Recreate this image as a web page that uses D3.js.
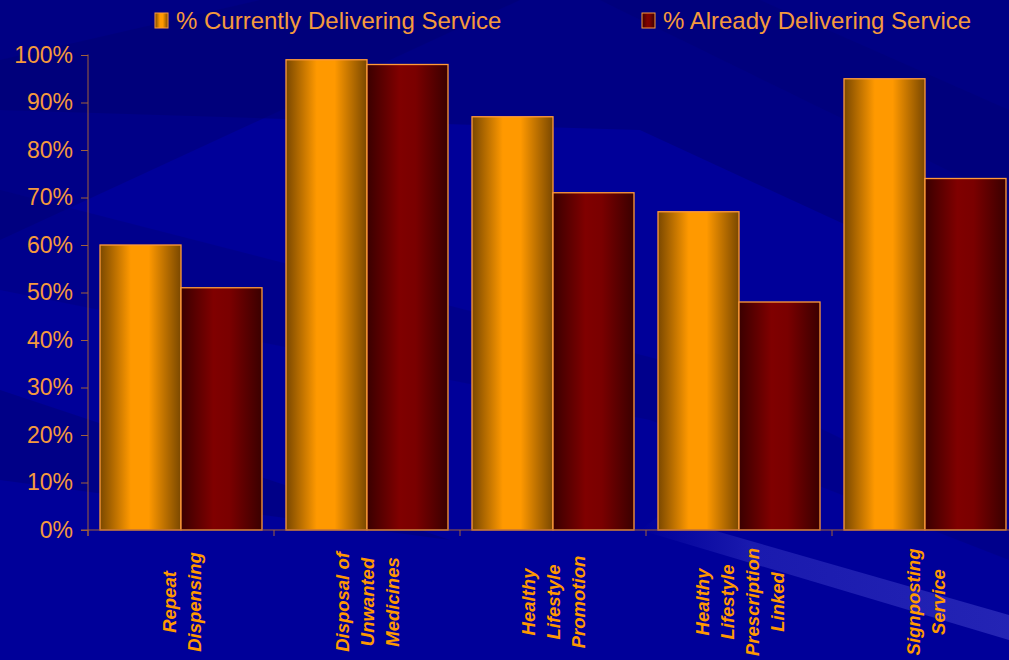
<!DOCTYPE html>
<html>
<head>
<meta charset="utf-8">
<script src="https://cdn.jsdelivr.net/npm/d3@7"></script>
<style>
  body { margin: 0; background: #000096; }
  #chart { width: 1009px; height: 660px; overflow: hidden; }
  text { font-family: Arial, "Liberation Sans", sans-serif; }
</style>
</head>
<body>
<div id="chart"></div>
<script>
/* DATA */
var categories = [
    ["Repeat", "Dispensing"],
    ["Disposal of", "Unwanted", "Medicines"],
    ["Healthy", "Lifestyle", "Promotion"],
    ["Healthy", "Lifestyle", "Prescription", "Linked"],
    ["Signposting", "Service"]
];
var seriesNames = ["% Currently Delivering Service", "% Already Delivering Service"];
var currently = [60, 99, 87, 67, 95];
var already = [51, 98, 71, 48, 74];
var yTicks = [0, 10, 20, 30, 40, 50, 60, 70, 80, 90, 100];

var width = 1009, height = 660;
var orange = "#f59a3c";

var svg = d3.select("#chart").append("svg")
    .attr("width", width)
    .attr("height", height);

var defs = svg.append("defs");

// bar gradients
var gOr = defs.append("linearGradient").attr("id", "gOrange");
[[0, "#7a4800"], [0.38, "#ff9900"], [0.6, "#ff9900"], [1, "#7a4800"]].forEach(function(s) {
    gOr.append("stop").attr("offset", s[0]).attr("stop-color", s[1]);
});
var gRed = defs.append("linearGradient").attr("id", "gRed");
[[0, "#3a0000"], [0.4, "#800000"], [0.6, "#7a0000"], [1, "#3a0000"]].forEach(function(s) {
    gRed.append("stop").attr("offset", s[0]).attr("stop-color", s[1]);
});
var gStreak = defs.append("linearGradient").attr("id", "gStreak");
gStreak.append("stop").attr("offset", 0).attr("stop-color", "#3030c0").attr("stop-opacity", 0);
gStreak.append("stop").attr("offset", 0.3).attr("stop-color", "#3a3ac8").attr("stop-opacity", 0.45);
gStreak.append("stop").attr("offset", 1).attr("stop-color", "#4848d0").attr("stop-opacity", 0.5);

/* BACKGROUND */
svg.append("rect").attr("width", width).attr("height", height).attr("fill", "#000099");
var dark = [
    "0,0 1009,0 1009,300 640,130 0,110",
    "0,60 260,0 520,0 0,240",
    "0,390 450,540 0,480",
    "600,0 1009,200 1009,110 760,0",
    "0,190 700,370 1009,520 1009,560 650,420 0,290"
];
dark.forEach(function(p, i) {
    svg.append("polygon").attr("points", p)
        .attr("fill", "#000070").attr("opacity", [0.5, 0.45, 0.45, 0.35, 0.3][i]);
});
svg.append("polygon")
    .attr("points", "660,515 1009,615 1009,640 640,530")
    .attr("fill", "url(#gStreak)");

/* SCALES */
var margin = { left: 88, top: 55, bottom: 530 };
var x0 = d3.scaleBand()
    .domain(d3.range(categories.length))
    .range([margin.left, margin.left + 186 * categories.length])
    .paddingInner(0)
    .paddingOuter(0);
var x1 = d3.scaleBand()
    .domain([0, 1])
    .range([12, x0.bandwidth() - 12]);
var y = d3.scaleLinear().domain([0, 100]).range([margin.bottom, margin.top]);

/* BARS */
var groups = svg.selectAll("g.cat")
    .data(categories.map(function(c, i) { return [currently[i], already[i]]; }))
    .enter().append("g")
    .attr("class", "cat")
    .attr("transform", function(d, i) { return "translate(" + x0(i) + ",0)"; });

groups.selectAll("rect")
    .data(function(d) { return d; })
    .enter().append("rect")
    .attr("x", function(d, j) { return x1(j); })
    .attr("y", function(d) { return y(d); })
    .attr("width", x1.bandwidth())
    .attr("height", function(d) { return y(0) - y(d); })
    .attr("fill", function(d, j) { return j === 0 ? "url(#gOrange)" : "url(#gRed)"; })
    .attr("stroke", "#ff9a3a")
    .attr("stroke-width", 1.3);

/* Y AXIS */
var yAxis = svg.append("g")
    .attr("transform", "translate(" + margin.left + ",0)")
    .call(d3.axisLeft(y).tickValues(yTicks).tickSize(7).tickPadding(8)
        .tickFormat(function(d) { return d + "%"; }));
yAxis.select(".domain").attr("stroke", "#a0603a").attr("d", "M0," + (margin.top - 0.5) + "V" + (margin.bottom + 6));
yAxis.selectAll(".tick line").attr("stroke", "#a0603a");
yAxis.selectAll(".tick text")
    .attr("fill", orange)
    .style("font-size", "23px");

/* X AXIS */
svg.append("line")
    .attr("x1", margin.left - 7).attr("x2", width)
    .attr("y1", y(0)).attr("y2", y(0))
    .attr("stroke", "#a0603a");
d3.range(categories.length).forEach(function(i) {
    svg.append("line")
        .attr("x1", x0(i)).attr("x2", x0(i))
        .attr("y1", y(0)).attr("y2", y(0) + 6)
        .attr("stroke", "#a0603a");
});

/* CATEGORY LABELS */
categories.forEach(function(lines, i) {
    var cx = x0(i) + x0.bandwidth() / 2;
    var n = lines.length;
    lines.forEach(function(t, k) {
        var lx = cx + (k - (n - 1) / 2) * 25 + 7;
        svg.append("text")
            .attr("transform", "translate(" + lx + ",602) rotate(-90)")
            .attr("text-anchor", "middle")
            .attr("fill", "#ff9900")
            .style("font-size", "18.5px")
            .style("font-weight", "bold")
            .style("font-style", "italic")
            .text(t);
    });
});

/* LEGEND */
var legendX = [155, 642];
seriesNames.forEach(function(name, i) {
    svg.append("rect")
        .attr("x", legendX[i]).attr("y", 13)
        .attr("width", 13).attr("height", 15)
        .attr("fill", i === 0 ? "url(#gOrange)" : "url(#gRed)")
        .attr("stroke", "#ff9a3a").attr("stroke-width", 1);
    svg.append("text")
        .attr("x", legendX[i] + 21).attr("y", 29)
        .attr("fill", orange)
        .style("font-size", "24px")
        .text(name);
});
</script>
</body>
</html>
